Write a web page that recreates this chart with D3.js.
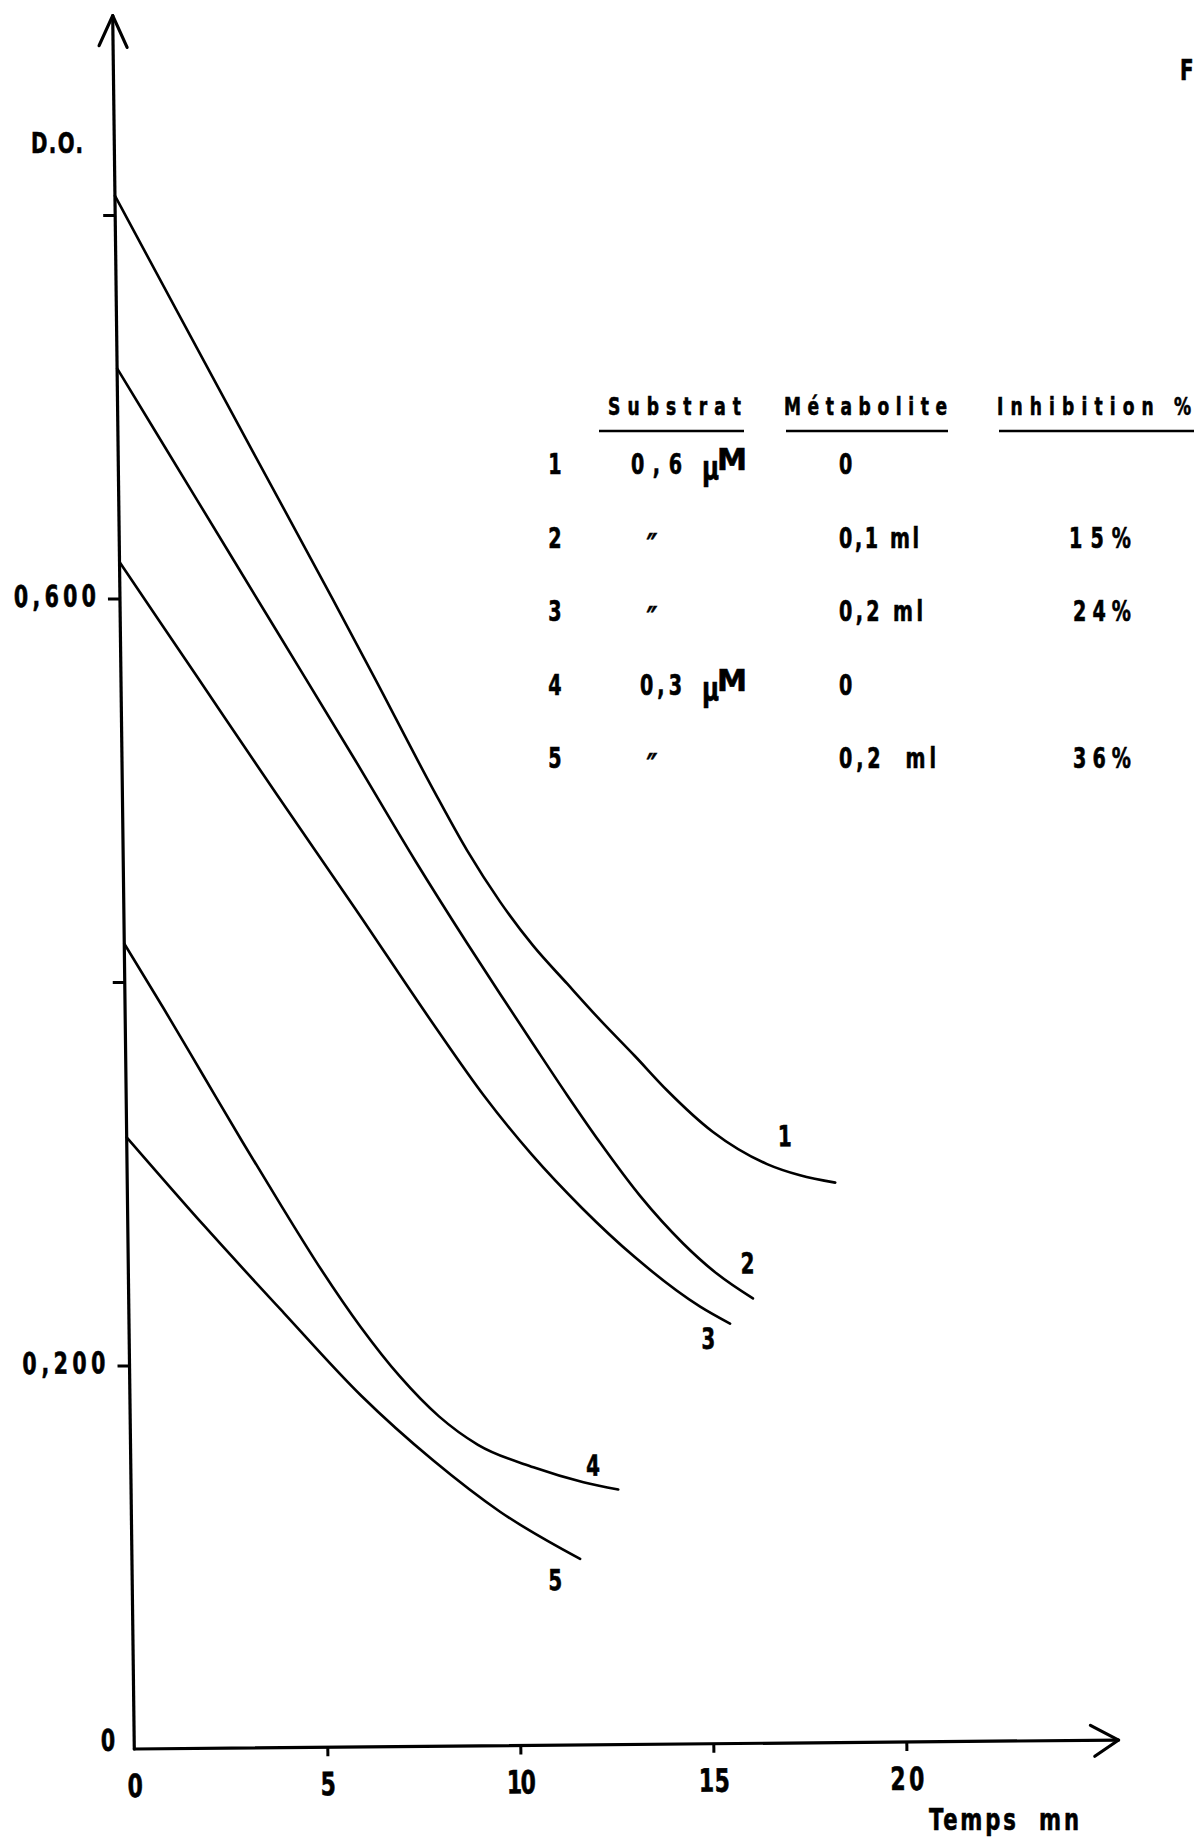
<!DOCTYPE html>
<html><head><meta charset="utf-8">
<script src="https://cdn.jsdelivr.net/npm/d3@7"></script>
<style>
html,body{margin:0;padding:0;background:#fff;}
svg{display:block;}
text{font-family:"Liberation Sans Narrow","Arial Narrow","DejaVu Sans Condensed",sans-serif;font-weight:bold;fill:#000;stroke:#000;stroke-width:0.6px;white-space:pre;}
</style></head><body>
<svg id="chart" width="1194" height="1837"></svg>
<script>
// ---------------- data ----------------
const seriesNames = ["1","2","3","4","5"];
const curve1T = [0,1.69,3.54,5.50,6.58,8.05,8.91,9.75,10.59,11.46,12.30,13.19,14.01,15.19,16.58,17.43,18.34];
const curve1V = [0.810,0.745,0.674,0.599,0.557,0.499,0.467,0.440,0.417,0.397,0.378,0.359,0.341,0.319,0.302,0.296,0.292];
const curve2T = [0,2,4,6,7.56,8.87,9.72,10.55,11.42,12.26,13.28,14.38,15.25,16.17];
const curve2V = [0.720,0.652,0.584,0.516,0.462,0.419,0.392,0.366,0.339,0.314,0.286,0.261,0.245,0.232];
const curve3T = [0,2,4,6,8,9.27,10.49,11.77,13.13,14.80,15.57];
const curve3V = [0.619,0.558,0.497,0.437,0.376,0.339,0.308,0.280,0.254,0.228,0.219];
const curve4T = [0,1,2,3,4,5,6,7,8,9,10.43,11.72,12.62];
const curve4V = [0.420,0.386,0.351,0.316,0.282,0.249,0.219,0.193,0.172,0.157,0.145,0.137,0.133];
const curve5T = [0,2,4,6,7.84,9.55,11.61];
const curve5V = [0.319,0.272,0.227,0.183,0.149,0.122,0.097];

const tickX = [0,5,10,15,20];
const tickXText = ["0","5","10","15","20"];
const tickY = [0,0.2,0.4,0.6,0.8];
const tickYText = ["0","0,200","","0,600",""];
const yAxisTop = 0.904;   // end of the drawn y axis (arrow tip), in D.O.
const xAxisEnd = 25.5;    // end of the drawn x axis (arrow tip), in min

const yTitle = "D.O.";
const xTitle = "Temps  mn";
const figText = "Fi";

const legendHeaders = ["Substrat","Métabolite","Inhibition %"];
const legendNums = ["1","2","3","4","5"];
const legendSubstrat = ["0,6","″","″","0,3","″"];
const legendUnit = ["µM","","","µM",""];
const legendMetabolite = ["0","0,1 ml","0,2 ml","0","0,2  ml"];
const legendInhibition = ["","15%","24%","","36%"];

// ---------------- styles ----------------
const SX = 0.76; // horizontal condensing of the bold type
const textWidths = {"0,600":82,"0,200":83,"10":29,"15":31,"20":34,"D.O.":52,"Temps  mn":150,
  "Substrat":133,"Métabolite":163,"Inhibition %":194,"0,1 ml":80,"0,2 ml":84,"0,2  ml":97,
  "15%":62,"24%":58,"36%":58,"0,6":51,"0,3":42};
const labelOffsets = [[-50,-37],[-5,-25],[-22,25],[-25,-14],[-25,31]];

function ctext(parent, x, y, str, size, anchor){
  const t = parent.append("text")
    .attr("transform", `translate(${x},${y}) scale(${SX},1)`)
    .attr("font-size", size).text(str);
  if (anchor) t.attr("text-anchor", anchor);
  const w = textWidths[str];
  if (w) t.attr("textLength", w / SX).attr("lengthAdjust", "spacing");
  return t;
}

const svg = d3.select("#chart");
const x = d3.scaleLinear().domain([0,20]).range([0,772]);
const y = d3.scaleLinear().domain([0,0.8]).range([0,-1534]);

// plot group with the slight shear of the scanned figure
const plot = svg.append("g").attr("transform","matrix(1,-0.0091,0.01246,1,134.3,1749)");

// y axis
const yAxis = d3.axisLeft(y).tickValues(tickY).tickSize(12).tickFormat((d,i)=>tickYText[i]);
const gy = plot.append("g").call(yAxis);
gy.attr("font-family",null).attr("font-size",null);
gy.select(".domain").remove();
gy.selectAll(".tick line").attr("stroke","#000").attr("stroke-width",3);
gy.selectAll(".tick").filter(d=>d===0).select("line").remove();
gy.selectAll(".tick").each(function(d,i){
  const g = d3.select(this);
  g.select("text").remove();
  if (tickYText[i]) ctext(g, d===0 ? -19 : -24, d===0 ? 1 : 7, tickYText[i], 30, "end");
});

// x axis
const xAxis = d3.axisBottom(x).tickValues(tickX).tickSize(9).tickFormat((d,i)=>tickXText[i]);
const gx = plot.append("g").call(xAxis);
gx.attr("font-family",null).attr("font-size",null);
gx.select(".domain").remove();
gx.selectAll(".tick line").attr("stroke","#000").attr("stroke-width",3);
gx.selectAll(".tick").filter(d=>d===0).select("line").remove();
gx.selectAll(".tick").each(function(d,i){
  const g = d3.select(this);
  g.select("text").remove();
  ctext(g, 0, 48, tickXText[i], 32, "middle");
});

// axis lines with open arrowheads
const axisStyle = g => g.attr("fill","none").attr("stroke","#000").attr("stroke-width",3.2)
  .attr("stroke-linecap","round").attr("stroke-linejoin","round");
plot.append("path").call(axisStyle)
  .attr("d", d3.line()([[x(0),y(0)],[x(0),y(yAxisTop)]]));
plot.append("path").call(axisStyle)
  .attr("d", d3.line()([[x(0),y(0)],[x(xAxisEnd),y(0)]]));
const yt = y(yAxisTop);
plot.append("path").call(axisStyle)
  .attr("d", d3.line()([[x(0)-14,yt+30],[x(0),yt],[x(0)+14,yt+32]]));
const xt = x(xAxisEnd);
plot.append("path").call(axisStyle)
  .attr("d", d3.line()([[xt-28,y(0)-15],[xt,y(0)],[xt-24,y(0)+16]]));

// curves
const seriesT = [curve1T,curve2T,curve3T,curve4T,curve5T];
const seriesV = [curve1V,curve2V,curve3V,curve4V,curve5V];
const line = d3.line().x(d=>x(d[0])).y(d=>y(d[1])).curve(d3.curveMonotoneX);
seriesNames.forEach((name,i)=>{
  const pts = seriesT[i].map((t,j)=>[t, seriesV[i][j]]);
  plot.append("path").attr("d", line(pts)).attr("fill","none").attr("stroke","#000")
    .attr("stroke-width",2.6).attr("stroke-linecap","round");
  const last = pts[pts.length-1];
  ctext(plot, x(last[0])+labelOffsets[i][0], y(last[1])+labelOffsets[i][1], name, 29, "middle");
});

// titles
ctext(svg, 31, 153, yTitle, 29);
ctext(svg, 929, 1830, xTitle, 31);
ctext(svg, 1180, 80, figText, 29);

// legend table
const headerX = [608,784,997];
const underline = [[599,744],[786,948],[999,1194]];
legendHeaders.forEach((h,i)=>{
  ctext(svg, headerX[i], 415, h, 25);
  svg.append("line").attr("x1",underline[i][0]).attr("x2",underline[i][1])
    .attr("y1",431).attr("y2",431).attr("stroke","#000").attr("stroke-width",2.5);
});
const rowY = d3.scaleLinear().domain([0,4]).range([474,768]);
legendNums.forEach((n,i)=>{
  const yy = rowY(i);
  ctext(svg, 555, yy, n, 28, "middle");
  if (legendUnit[i]) {
    ctext(svg, 682, yy, legendSubstrat[i], 28, "end");
    ctext(svg, 702, yy+6, legendUnit[i].charAt(0), 34);
    ctext(svg, 717, yy-4, legendUnit[i].charAt(1), 30).attr("textLength", 30 / SX).attr("lengthAdjust","spacingAndGlyphs");
  } else {
    ctext(svg, 652, yy+10, legendSubstrat[i], 34, "middle").attr("font-style","italic");
  }
  ctext(svg, 839, yy, legendMetabolite[i], 28);
  if (legendInhibition[i]) ctext(svg, 1131, yy, legendInhibition[i], 28, "end");
});
</script>
</body></html>
